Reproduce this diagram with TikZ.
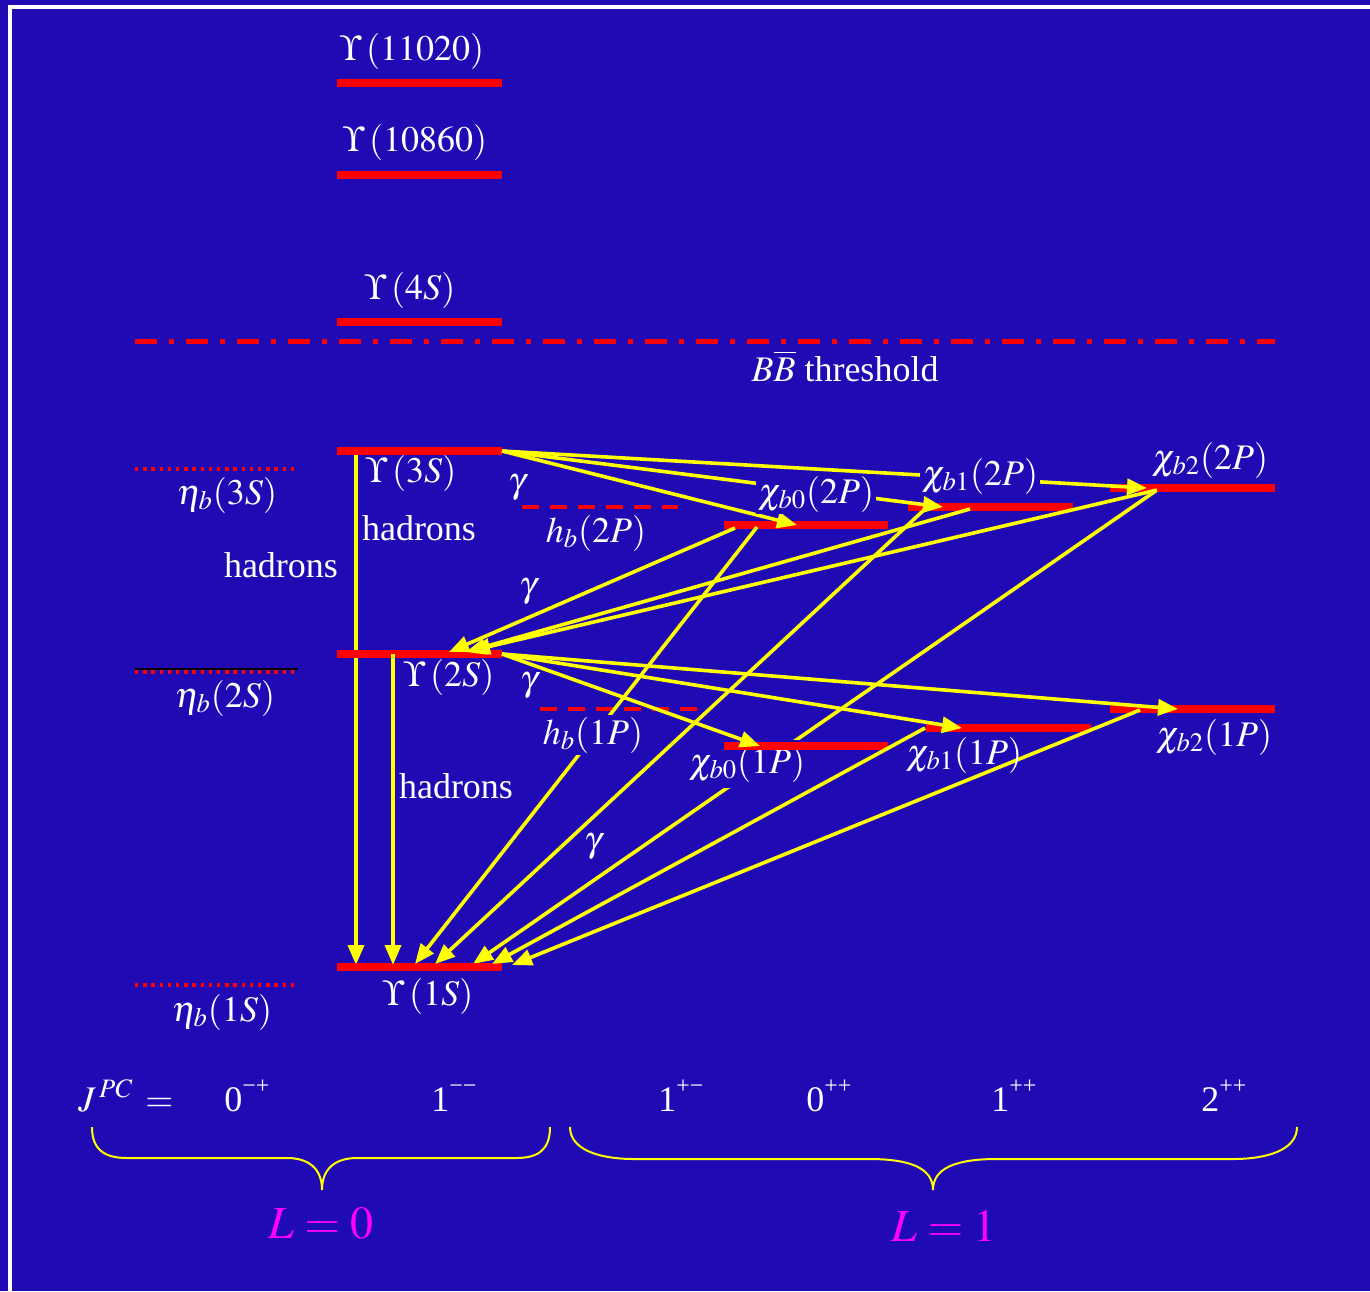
\documentclass[tikz,border=0pt]{standalone}
\usepackage{mathptmx}
\usepackage[no-math]{fontspec}
\setmainfont{Liberation Serif}
\usetikzlibrary{arrows.meta}
\definecolor{bgblue}{RGB}{31,10,180}
\definecolor{lvred}{RGB}{255,0,0}
\definecolor{ylw}{RGB}{255,255,0}
\definecolor{mgn}{RGB}{255,0,255}
\newcommand{\jpcsup}[1]{\raisebox{9pt}{\fontsize{12}{12}\selectfont #1}}
\begin{document}
\begin{tikzpicture}[x=0.5pt,y=-0.5pt,
  lev/.style={lvred,line width=4pt},
  dotlev/.style={lvred,line width=1.7pt,dash pattern=on 1.7pt off 2.4pt},
  dashlev/.style={lvred,line width=2pt,dash pattern=on 8.5pt off 5.5pt},
  thline/.style={lvred,line width=2.5pt,dash pattern=on 11pt off 6pt on 2.5pt off 6pt},
  lbl/.style={text=white,font=\fontsize{18}{20}\selectfont,inner sep=1pt},
  mask/.style={lbl,fill=bgblue},
  ray/.style={ylw,line width=1.8pt},
  arr/.style={ray,-{Triangle[length=10pt,width=8pt]}},
  bracestyle/.style={ylw,line width=1pt},
  lsym/.style={text=mgn,font=\fontsize{23}{26}\selectfont,inner sep=1pt}
  ]
\fill[bgblue] (0,0) rectangle (1370,1291);
\useasboundingbox (0,0) rectangle (1370,1291);
\clip (0,0) rectangle (1370,1291);
\draw[white,line width=2pt] (1380,7) -- (10,7) -- (10,1300);

% ---------- coordinates of levels ----------
\coordinate (U11L) at (337,83);  \coordinate (U11R) at (502,83);
\coordinate (U10L) at (337,175); \coordinate (U10R) at (502,175);
\coordinate (U4L) at (337,322);  \coordinate (U4R) at (502,322);
\coordinate (U3L) at (337,451);  \coordinate (U3R) at (502,451);
\coordinate (U2L) at (337,654);  \coordinate (U2R) at (502,654);
\coordinate (U1L) at (337,967);  \coordinate (U1R) at (502,967);
\coordinate (thL) at (135,341);  \coordinate (thR) at (1275,341);
\coordinate (e3L) at (135,469);  \coordinate (e3R) at (298,469);
\coordinate (e2L) at (135,672);  \coordinate (e2R) at (298,672);
\coordinate (e2kL) at (135,669); \coordinate (e2kR) at (298,669);
\coordinate (e1L) at (135,985);  \coordinate (e1R) at (298,985);
\coordinate (hb2L) at (522,507); \coordinate (hb2R) at (678,507);
\coordinate (hb1L) at (540,709); \coordinate (hb1R) at (697,709);
\coordinate (c02L) at (724,525); \coordinate (c02R) at (888,525);
\coordinate (c12L) at (908,507); \coordinate (c12R) at (1073,507);
\coordinate (c22L) at (1110,488);\coordinate (c22R) at (1275,488);
\coordinate (c01L) at (724,746); \coordinate (c01R) at (888,746);
\coordinate (c11L) at (926,728); \coordinate (c11R) at (1091,728);
\coordinate (c21L) at (1110,709);\coordinate (c21R) at (1275,709);

% ---------- coordinates of transitions ----------
\coordinate (U3a) at (356,451); \coordinate (U3b) at (356,965);
\coordinate (U2a) at (393,654); \coordinate (U2b) at (393,965);
\coordinate (t02) at (797,525); \coordinate (t12) at (943,507); \coordinate (t22) at (1147,488);
\coordinate (t01) at (760,746); \coordinate (t11) at (962,728); \coordinate (t21) at (1178,709);
\coordinate (s02a) at (735,528); \coordinate (r02) at (449,652);
\coordinate (s12a) at (970,509); \coordinate (r12) at (466,652);
\coordinate (s22a) at (1157,490); \coordinate (r22) at (470,651);
\coordinate (s02b) at (757,527); \coordinate (g02) at (415,964);
\coordinate (s12b) at (925,509); \coordinate (g12) at (435,964);
\coordinate (g22) at (473,964);
\coordinate (s11) at (925,728); \coordinate (g11) at (492,964);
\coordinate (s21) at (1140,710); \coordinate (g21) at (512,965);

% lines passing under bars and labels
\draw[arr] (U3a) -- (U3b);
\draw[arr] (s22a) -- (g22);
\node[mask,inner ysep=3pt] (lc01) at (747,764) {$\chi_{b0}(1P)$};

% ---------- levels ----------
\draw[lev] (U11L) -- (U11R);
\draw[lev] (U10L) -- (U10R);
\draw[lev] (U4L) -- (U4R);
\draw[lev] (U3L) -- (U3R);
\draw[lev] (U2L) -- (U2R);
\draw[lev] (U1L) -- (U1R);
\draw[thline] (thL) -- (thR);
\draw[dotlev] (e3L) -- (e3R);
\draw[black,line width=0.8pt] (e2kL) -- (e2kR);
\draw[dotlev] (e2L) -- (e2R);
\draw[dotlev] (e1L) -- (e1R);
\draw[dashlev] (hb2L) -- (hb2R);
\draw[dashlev] (hb1L) -- (hb1R);
\draw[lev] (c02L) -- (c02R);
\draw[lev] (c12L) -- (c12R);
\draw[lev] (c22L) -- (c22R);
\draw[lev] (c01L) -- (c01R);
\draw[lev] (c11L) -- (c11R);
\draw[lev] (c21L) -- (c21R);

% ---------- transitions ----------
\draw[arr] (U2a) -- (U2b);
\draw[arr] (U3R) -- (t02);
\draw[arr] (U3R) -- (t12);
\draw[arr] (U3R) -- (t22);
\draw[arr] (U2R) -- (t01);
\draw[arr] (U2R) -- (t11);
\draw[arr] (U2R) -- (t21);
\draw[arr] (s02a) -- (r02);
\draw[arr] (s12a) -- (r12);
\draw[arr] (s22a) -- (r22);
\draw[arr] (s02b) -- (g02);
\draw[arr] (s12b) -- (g12);
\draw[arr] (s11) -- (g11);
\draw[arr] (s21) -- (g21);

% ---------- labels ----------
\node[lbl] (lU11) at (412,51) {$\Upsilon\,(11020)$};
\node[lbl] (lU10) at (415,142) {$\Upsilon\,(10860)$};
\node[lbl] (lU4) at (410,290) {$\Upsilon\,(4S)$};
\node[lbl,anchor=base] (lth) at (845,381) {$B\overline{B}$ threshold};
\node[lbl] (lU3) at (411,473) {$\Upsilon\,(3S)$};
\node[lbl] (le3) at (227,495) {$\eta_b(3S)$};
\node[lbl,anchor=base] (had1) at (419,540) {hadrons};
\node[lbl,anchor=base] (had2) at (281,577) {hadrons};
\node[lbl] (g1) at (517,488) {$\gamma$};
\node[lbl] (lhb2) at (596,533) {$h_b(2P)$};
\node[mask] (lc02) at (816,494) {$\chi_{b0}(2P)$};
\node[mask] (lc12) at (980,476) {$\chi_{b1}(2P)$};
\node[lbl] (lc22) at (1210,460) {$\chi_{b2}(2P)$};
\node[lbl] (g2) at (528,592) {$\gamma$};
\node[lbl] (lU2) at (449,677) {$\Upsilon\,(2S)$};
\node[lbl] (le2) at (225,698) {$\eta_b(2S)$};
\node[lbl] (g3) at (529,686) {$\gamma$};
\node[mask] (lhb1) at (593,735) {$h_b(1P)$};
\node[lbl] (lc11) at (964,755) {$\chi_{b1}(1P)$};
\node[lbl] (lc21) at (1214,737) {$\chi_{b2}(1P)$};
\node[lbl,anchor=base] (had3) at (456,798) {hadrons};
\node[lbl] (g4) at (593,847) {$\gamma$};
\node[lbl] (lU1) at (428,996) {$\Upsilon\,(1S)$};
\node[lbl] (le1) at (222,1012) {$\eta_b(1S)$};

% ---------- quantum numbers ----------
\node[lbl,anchor=base west] (jpc) at (76,1111) {$J^{\,PC}\,=$};
\node[lbl,anchor=base west] (q1) at (222,1111) {0\jpcsup{−+}};
\node[lbl,anchor=base west] (q2) at (429,1111) {1\jpcsup{−−}};
\node[lbl,anchor=base west] (q3) at (656,1111) {1\jpcsup{+−}};
\node[lbl,anchor=base west] (q4) at (804,1111) {0\jpcsup{++}};
\node[lbl,anchor=base west] (q5) at (989,1111) {1\jpcsup{++}};
\node[lbl,anchor=base west] (q6) at (1199,1111) {2\jpcsup{++}};

\draw[bracestyle] (92,1127) .. controls (92,1150) and (105,1158) .. (127,1158) -- (287,1158)
  .. controls (308,1158) and (322,1168) .. (322,1190)
  .. controls (322,1168) and (336,1158) .. (357,1158) -- (516,1158)
  .. controls (538,1158) and (550,1150) .. (550,1127);
\draw[bracestyle] (570,1127) .. controls (570,1150) and (600,1159) .. (634,1159) -- (869,1159)
  .. controls (910,1159) and (933,1168) .. (933,1190)
  .. controls (933,1168) and (956,1159) .. (997,1159) -- (1233,1159)
  .. controls (1267,1159) and (1297,1150) .. (1297,1127);

\node[lsym,anchor=base] (L0) at (321,1238) {$L=0$};
\node[lsym,anchor=base] (L1) at (944,1241) {$L=1$};
\end{tikzpicture}
\end{document}
